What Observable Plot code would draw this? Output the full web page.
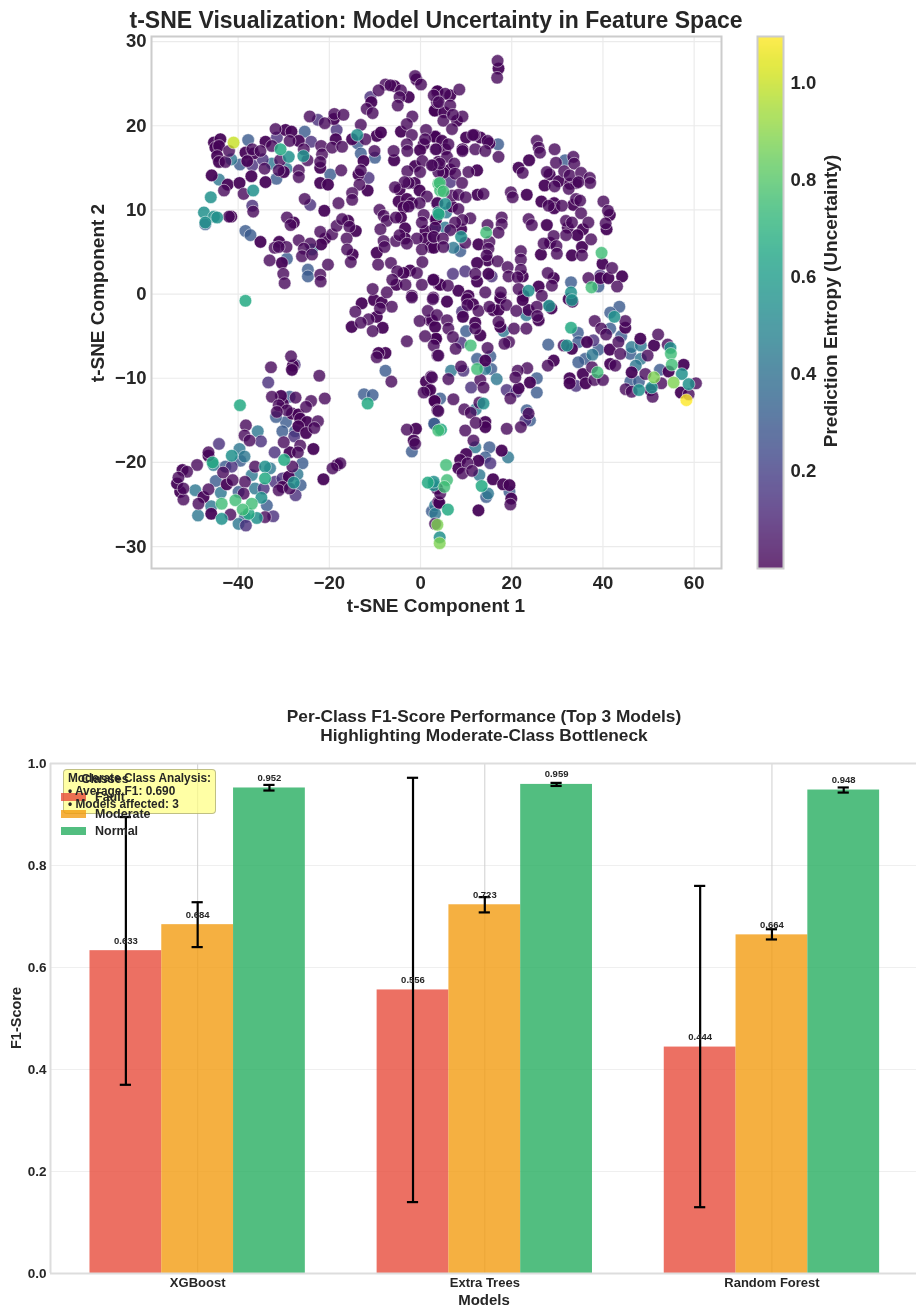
<!DOCTYPE html>
<html><head><meta charset="utf-8">
<script src="https://cdn.jsdelivr.net/npm/d3@7"></script>
<script src="https://cdn.jsdelivr.net/npm/@observablehq/plot@0.6"></script>
<style>
html,body{margin:0;padding:0;background:#fff}
#page{position:relative;width:916px;height:1309px;overflow:hidden;font-family:"Liberation Sans",Arial,sans-serif;color:#262626;filter:blur(0.35px)}
#page svg{position:absolute;background:transparent}
.t{position:absolute;white-space:pre;font-weight:bold;line-height:1;transform:translate(-50%,-50%)}
.l{position:absolute;white-space:pre;font-weight:bold;line-height:1;transform:translateY(-50%)}
.s{position:absolute;width:25px;height:8px}
</style></head><body><div id="page"></div>
<script>
// ---- t-SNE points, grouped by prediction entropy
const dark = [[-45.3,18],[-43.9,18.4],[-45,17.4],[-44.2,17.6],[-44.6,16.4],[-44.2,15.7],[-38.4,16.8],[-36.6,16.7],[-38,15.8],[-34,18.1],[-29.6,19.5],[-28.3,19.3],[-37.1,14],[-34,13.3],[-30,14.5],[-26.7,18.2],[-22,15],[-22,13.2],[-20.3,13],[-19,20.8],[-18.6,18.4],[-15,18.4],[-9.6,18.8],[-8.7,19.2],[-12.5,15.8],[-13.6,14.2],[-11.6,12.3],[-21.1,9.9],[-27.8,8.5],[-45.8,14.1],[-42.3,13],[-39.7,13.2],[-41.5,9.2],[-35.1,6.2],[-31,6.2],[-20.9,6.6],[-21.8,5.9],[-15.9,8.7],[-14.2,7.5],[-14.9,4.7],[-30.4,3.7],[-0.9,25.5],[-5.7,24.7],[-2.6,23.4],[-10.8,22.8],[3.6,24],[3.2,21.8],[-4.3,19.3],[0.7,17.8],[-0.1,17.1],[3.3,18.7],[-5.8,15.9],[-1.2,15.2],[3.9,15.7],[-1.3,13.2],[-4.6,12.4],[-0.2,12.3],[-4.8,11],[-3,11.3],[-1.9,10.8],[-3.7,10.3],[-4.3,9.1],[3.3,8.9],[-3.4,7.8],[1.1,7.5],[1.1,6.6],[-3.4,6.6],[2.3,5.6],[-9.6,4.9],[-2.3,2.8],[-3.7,2.5],[-5.3,1.1],[3.9,1.2],
[17.1,26.8],[3.7,24.1],[6.5,23.6],[3.1,21.8],[5.2,21.6],[8,20.6],[10,18.6],[13.1,18.6],[11.8,18.9],[15.1,17.9],[9.2,17.2],[3.2,18.7],[4.7,18.2],[5.4,17.2],[6.5,14.8],[5,14.4],[12.4,14.7],[12.5,11.8],[6.9,10.4],[3.4,8.9],[8.9,7.7],[2.9,5.5],[12.7,5.9],[14.7,4],[12.4,3.7],[14.9,2.4],[12.4,1.5],[4.3,1.1],[2.9,1.7],[8.3,0.4],[10.5,-0.2],[17.5,-0.4],[22.4,2.1],[29.2,1.9],[25.9,0.9],[22.6,-0.2],[32.5,-0.6],[21.5,15],[23.8,15.9],[28.3,14.2],[27.2,12.9],[30.3,13.4],[32.8,13.1],[34.1,13.2],[23.3,11.8],[26.5,11],[29.3,10.8],[29.3,10.2],[33.5,10.6],[41.5,9.4],[40.8,7.7],[27.7,8.2],[32.3,7.9],[35.6,7.7],[34.4,7],[28.4,6.1],[35.4,5.6],[26.4,4.7],[33.2,4.6],[39.9,3.6],[39.4,1.9],[41.2,1.9],[44.2,2.1],
[-12.9,-1.1],[-10.2,-0.7],[-8.5,-1],[-9.6,-2.7],[-15.1,-3.9],[-8.3,-4],[2.1,-3.1],[3.4,-5.3],[-7.7,-7],[-9.2,-7],[1.5,-11.4],[3.1,-12.7],[1.2,-10.4],[-1,-16],[-1.5,-17.4],[-28,-8.5],[-28.2,-9],[-30.2,-13],[-30.6,-12.1],[-28.2,-14.2],[-26.8,-14.3],[-26.4,-14.8],[-24.9,-15.2],[-26.8,-15.7],[-25.1,-16.5],[-23.5,-18.4],[-28.7,-18.8],[-28.9,-21.7],[-30.3,-22.9],[-18.3,-20.3],[-21.3,-22],[-46.5,-19.2],[-42.5,-22.6],[-47.6,-24.1],[-52.7,-23.5],[-53.4,-22.5],[-52.2,-20.9],[-45.9,-26.1],[3.9,-24.7],
[5.8,-0.9],[10.2,-0.6],[11.5,-1.2],[9.3,-2.7],[12,-3.4],[2.5,-3.1],[3.2,-3.9],[3.4,-5.3],[13.1,-4.9],[15.9,-1.9],[17.1,-1.9],[17.5,-0.5],[17.5,-3.9],[23.7,-1.9],[22.4,-0.7],[28.7,-1.7],[25.9,-3.1],[33.3,-0.9],[29.2,-7.9],[24,-10.5],[21.5,-11.2],[14.2,-7.9],[2.1,-11.4],[3.1,-12.7],[14.2,-15.2],[14.2,-15.8],[10,-19],[17.8,-18.6],[8.7,-19.7],[12.7,-19.8],[8.3,-20.7],[15.9,-22],[18.1,-22.6],[19.5,-22.7],[19.9,-24.3],[12.7,-25.7],[4.1,-24.8],[3.6,-23.1],
[44.9,-4],[33.2,-6.5],[36.5,-5.7],[35.6,-9.5],[32.7,-10],[32.7,-10.6],[36.2,-10.6],[41.5,-6.6],[41.6,-8.3],[48.2,-5.3],[51.2,-6.1],[46.3,-9.3],[57.7,-8.4],[54.4,-9.2],[50.4,-11.4],[57.1,-11.7]];
const purple = [[-42.8,15.7],[-42,17],[-36.9,17.2],[-35.1,17],[-31.8,19.6],[-32.6,17.6],[-30.8,15.9],[-34.2,14.9],[-31.1,14.7],[-26.7,14.7],[-26.7,13.9],[-28.7,18.2],[-24.8,15.9],[-25.6,17.2],[-21.8,17.6],[-21.6,16.6],[-22,15.7],[-24.3,21.1],[-21,20.3],[-18.9,21.4],[-16.9,21.3],[-19.4,17.4],[-17.2,17.5],[-12.1,18.4],[-13.1,20.1],[-17.4,14.7],[-10.1,17],[-13.1,14.7],[-13.4,13],[-15,12],[-15,11.2],[-18,10.8],[-25.4,11.3],[-29.3,9.1],[-28.5,8.2],[-43.1,12.3],[-38.8,11.9],[-42,9.2],[-36.7,9.8],[-32,5.5],[-29.4,5.6],[-31.1,5.6],[-26.7,6.4],[-24.2,6],[-25.6,5.4],[-26,4.5],[-23.8,4.7],[-22,7.4],[-19.4,7.1],[-18.4,8.1],[-17.2,8.9],[-15.6,8],[-16.2,6.6],[-16.1,5.3],[-15.3,3.8],[-20.3,3.5],[-33.1,4],[-30.1,2.4],[-29.8,1.3],[-22,2.3],[-21.9,1.5],
[-1.2,25.9],[0.1,24.9],[-7.7,24.9],[-6.6,24.8],[-9.2,24.2],[-4.3,24.2],[-4.6,23.4],[-11.8,22],[-10.5,21.5],[-5,22.4],[-1.8,21.1],[3.6,22.8],[-3,20.2],[-1.9,18.9],[-3,17.8],[-5.9,17],[-2.9,17],[1.2,19.5],[1,18.4],[3.3,17.2],[0.4,15.8],[-2.9,14.6],[-0.1,14.5],[2.8,15.3],[3.9,14.5],[-2.6,13.2],[-3.5,13.3],[-5.6,12.7],[1.4,11.6],[-0.2,10.8],[3.6,10.8],[-2.6,10.4],[-9,10],[-8.1,9.3],[-7.4,8.7],[-5.4,9.1],[0.7,9.4],[0.3,8.5],[-8.8,7.7],[-0.8,6.6],[2.8,6.8],[-5.4,6.3],[-8.1,6.3],[-4.6,7],[0.3,5.3],[-3,6],[-7.9,5.6],[0.4,3.8],[-9.3,3.5],[-6.5,3.7],[-5.1,2.7],[-0.8,2.5],[-6.2,1.7],[-3.3,1.1],[0.3,1.1],[2.8,1.7],[-10.5,0.6],[-7.4,0.2],[-1.9,-0.2],[2.8,-0.4],
[16.9,27.7],[16.8,25.7],[8.5,24.3],[5.4,23.8],[2.9,23.6],[4,22.8],[6.5,22.4],[9.2,21.1],[5,20.6],[7.1,21.3],[6.9,19.6],[11.5,18.9],[14.7,18.2],[17.1,16.3],[12,17.2],[14.2,17],[9.2,17],[6.1,17.8],[3.4,17.2],[5.8,16.3],[4.2,15.5],[2.5,15.3],[7.4,15.5],[7.6,14.3],[10.5,14.5],[9.1,13.2],[6.9,11.7],[8.3,11.8],[9.9,11.5],[13.8,11.9],[3.7,10.8],[8.3,10.1],[10.9,9],[9.2,8.8],[7.6,8.5],[3.2,7.9],[6.5,7.6],[2.9,6.8],[4.9,6.6],[9.8,6.1],[5,5.6],
[14.7,8.2],[17.8,9.1],[17.8,8.3],[17.1,7.3],[15.1,6.2],[14.9,5.4],[14.5,4.6],[16.9,3.9],[19.1,3.2],[12,2.4],[19.3,2.1],[6,1],[14.2,0.2],[17.6,0.2],[22,5.1],[22,4.1],[22,2.9],[21.3,2],[27.9,2.5],[28.8,1],[21.5,0.6],[26.6,-0.2],[22.4,14.4],[25.5,18.2],[25.9,17.4],[26.2,16.8],[29.4,17.2],[29.7,15.6],[33.5,16.3],[33.7,15.5],[27.7,14.5],[31.5,14.6],[32.7,14.1],[35.2,14.4],[37.1,13.8],[37.2,13.2],[29.4,12.8],[32.5,12.5],[34.6,13.3],[19.8,12.1],[20.2,11.5],[28.1,10.5],[31,10.5],[34.1,11.3],[35,11.1],[40.1,11],[41.1,9.9],[40.6,8.4],[35.2,9.6],[23.7,8.9],[24.4,8.2],[31.9,8.7],[33.2,8.5],[36.8,8.5],[31.9,7],[37.4,6.5],[29.2,6.9],[27,6],[29.8,5.7],[29.9,4.8],[35.4,4.6],[42,3.1],[36.8,1.9],[43.1,0.9],
[-14.3,-2.1],[-6.3,-1.5],[-8.9,-1.7],[-11.4,-3],[-13.1,-3.4],[-10.5,-4.4],[-3,-5.6],[-0.2,-3.2],[1.6,-2],[2.7,-0.6],[3.6,-2.5],[1,-5],[2.9,-6.1],[3.7,-7.3],[-1.9,-0.4],[-9.6,-7.5],[-6.4,-10.4],[2.3,-9.8],[0.7,-11.7],[3.7,-13.8],[-3,-16.1],[-1.2,-17.8],
[-28.4,-7.4],[-32.8,-8.7],[-22.2,-9.7],[-32.6,-12.2],[-27.4,-12.3],[-21,-12.4],[-24,-12.7],[-25.1,-13.4],[-31.1,-13.2],[-29.3,-13.8],[-31.5,-14],[-22.5,-15.1],[-23.3,-15.9],[-38.3,-15.6],[-38.6,-16.8],[-37.5,-17.4],[-30,-17.6],[-26.4,-18],[-26.9,-18.8],[-28.1,-20.5],[-31.1,-23.3],[-28.7,-23.1],[-17.6,-20.1],[-19.3,-20.7],[-46.5,-18.8],[-49,-20.3],[-43.3,-21.2],[-36.3,-20.5],[-38.5,-22.3],[-41.2,-22.1],[-46.5,-23.2],[-48.7,-24.9],[-52,-24.4],[-51.2,-21.1],[-53.1,-21.8],[-52,-23.1],[-41.7,-26.2],[-34.1,-26.5],[-38.8,-23.7],[3.6,-23.1],[3.2,-27.3],
[10.3,-1.3],[12.7,-2],[12,-4.1],[5.8,-3.1],[6.1,-4.1],[7.1,-5.1],[7.7,-6.5],[3.9,-7.3],[14.7,-6.4],[15.1,-1.5],[18.8,-1.3],[17.1,-3.3],[20.5,-4.1],[23.2,-4.1],[21,-2],[25.5,-1.5],[25.6,-2.6],[19.4,-5.7],[18.4,-5.9],[27.9,-8.5],[23.4,-8.8],[21.3,-9.1],[20.8,-9.9],[13.1,-10.2],[13.8,-11.1],[8.9,-8.6],[6.1,-10.1],[2.5,-9.9],[19.7,-12.4],[7.2,-12.5],[3.9,-13.9],[9.6,-13.7],[11,-14.1],[12.9,-12.9],[12.1,-15.3],[9.8,-16.2],[18.9,-16],[22,-15.8],[23.7,-14.2],[11.6,-17.4],[10.3,-20.1],[9.2,-21.3],[11.3,-21],[19.7,-25],[4.3,-23.7],
[38.2,-3.2],[44.9,-3.2],[39.6,-4.1],[40.7,-4.8],[43.4,-5.7],[31.4,-6.1],[37.6,-8.7],[38.1,-10.2],[40,-10.2],[42.7,-8.5],[43.8,-7.1],[52.1,-4.8],[54.2,-6],[49.8,-7.3],[49.3,-9.5],[52.8,-10.6],[60.4,-10.6],[50.9,-12.2],[58.8,-11.9],[45,-11.3],[46.3,-11.6]];
const indigo = [[-18.4,19.5],[-22.5,20.7],[-24,18.1],[-11.4,13.8],[-24.2,10.6],[-36.9,10.5],[-31.5,18.6],[-11,23.4],[-36.9,15.3],[-34.6,16],[6.5,13.3],[-33.4,-10.5],[-35,-17.5],[-27.7,-16.9],[-44.2,-17.8],[-41.4,-20.5],[-32,-18.8],[-34.4,-23.1],[-31.9,-22.3],[-30.3,-21.9],[-38.3,-27.5],[-32.3,-26.4],[-27.4,-23.9],[9.1,-2.1],[8.9,-5.8],[-27.6,-8.4],[11.1,-11.1],[18.9,-11.4],[21,-11.6],[15.3,-20.1],[37.9,-5.5],[34.1,-10.9],[23,-15],[9.4,-9.1],[28.2,-1.4],[39.4,2.2],[15.6,2.1],[9.8,2.7],[7.1,2.4]];
const slate = [[-37.8,18.3],[-39.6,15.4],[-31.6,13.7],[-25.4,19.3],[-13.8,17.9],[-19.8,14.2],[-10,16.2],[-13.1,16.7],[-47.2,8.3],[-38.4,7.5],[-37.3,7],[-29.3,4.2],[-24.7,2.9],[-24.7,2.1],[3.3,7.9],[17,17.8],[31.7,15.9],[8.7,5.1],[-7.7,-9.1],[-12.4,-11.9],[-10.5,-12],[3,-15.4],[-1.9,-18.7],[-29.5,-15.2],[-30.3,-16.3],[-27.5,-16.3],[-31.7,-14.6],[-25.9,-20.1],[-26.3,-22.7],[-42.8,-20.5],[-39.5,-19.8],[-44.9,-22.2],[-39.9,-23.5],[-33.7,-25.1],[-38.5,-26.5],[2.5,-25.8],[10,-4.4],[28,-6],[25.5,-10],[25.5,-11.7],[12.4,-7.7],[15.3,-7.4],[15.5,-8.9],[4.3,-12.4],[24,-15],[23.3,-13.8],[3,-15.4],[15.1,-18.2],[14.2,-19.4],[14.4,-24.1],[19.5,-23.5],[43.6,-1.5],[41.6,-2.2],[41.6,-4.1],[44,-5],[34.5,-4.6],[34.6,-5.7],[39,-6.6],[36.1,-7.7],[34.6,-8.1],[46,-7.1],[46,-10.4],[47.9,-10.4],[33,1.4],[39,0.9],[52.5,-9],[-28.7,-12.2]];
const blue = [[-41.5,16],[-44.2,13.6],[-32.6,15.5],[-29.4,14.9],[-23.8,5.3],[5.6,9.7],[7.2,5.5],[-35.7,-16.3],[-39.7,-18.4],[-38.6,-19.3],[-33,-20.7],[-37,-21.5],[-36.3,-23.1],[-45.4,-20.3],[-43.8,-23.6],[-49.4,-23.3],[-45.9,-25.2],[-48.8,-26.3],[-39.9,-27.3],[-27,-21.4],[3.2,-25.1],[23.2,-2.5],[18.2,-4.4],[16.7,-10.1],[14.2,-8.9],[6.7,-9.1],[12.1,-13.7],[12,-18.2],[19.2,-19.4],[12.9,-21.5],[14.8,-23.7],[3.2,-26.1],[37.7,-7.2],[46.3,-6.3],[48.3,-6.1],[48.3,-7.7],[47.2,-8.5],[5.4,7.9]];
const teal = [[-28.9,16.3],[-25.7,16.4],[-13.9,18.9],[-36.7,12.3],[-46,11.5],[-47.5,9.7],[-45.3,9.2],[-47.2,8.5],[-44.6,9.1],[3.9,9.7],[5.4,10.7],[8.9,6.8],[23.7,0.4],[33,0.2],[-41.4,-19.2],[-34.1,-20.5],[-34.9,-24.2],[-43.6,-26.7],[-35.9,-26.6],[-27.8,-22.4],[4.2,-28.9],[2.9,-22.7],[42.5,-2.7],[13.8,-13],[28.2,-1.4],[32.1,-6.1],[33.2,-0.7],[47.9,-11.4],[54.8,-6.4],[57.3,-9.5],[58.8,-10.7],[50.7,-11.1],[2.9,-22.3]];
const seagreen = [[-30.7,17.2],[-38.4,-0.8],[-39.6,-13.2],[-11.6,-13],[-34.1,-21.9],[-45.6,-20],[-37.7,-26.1],[-29.9,-19.7],[4.5,-16.1],[4,9.5],[33,-4],[6,-25.6],[1.6,-22.4],[13.4,-22.8]];
const green = [[3.9,13.1],[4.3,12.3],[4.2,13.2],[5,12.2],[14.4,7.3],[39.7,4.9],[37.5,0.8],[3.9,-16.2],[-37,-24.9],[-40.6,-24.5],[-43.6,-24.9],[-39,-25.6],[11,-6.1],[12.4,-8.9],[38.8,-9.3],[54.9,-7.1],[55.1,-8.4],[5.6,-20.3],[5.8,-22.1],[5.2,-22.9]];
const lime = [[3.7,-27.4],[4.2,-29.6],[51.2,-9.9],[55.5,-10.5]];
const chartreuse = [[-41,18]];
const yellow = [[58.3,-12.6]];
const entropyGroups = [
  {pts: slate, e: 0.3, a: 0.8},
  {pts: blue, e: 0.43, a: 0.8},
  {pts: indigo, e: 0.14, a: 0.8},
  {pts: dark, e: 0.01, a: 0.94},
  {pts: purple, e: 0.02, a: 0.8},
  {pts: teal, e: 0.55, a: 0.85},
  {pts: seagreen, e: 0.66, a: 0.85},
  {pts: green, e: 0.75, a: 0.8},
  {pts: lime, e: 0.88, a: 0.8},
  {pts: chartreuse, e: 1.0, a: 0.8},
  {pts: yellow, e: 1.097, a: 0.8}
];
const xTicksTop = [-40,-20,0,20,40,60];
const yTicksTop = [-30,-20,-10,0,10,20,30];
const cbTicks = [0.2,0.4,0.6,0.8,1.0];

// ---- per-class F1
const models = ["XGBoost","Extra Trees","Random Forest"];
const classes = ["Fault","Moderate","Normal"];
const classColors = ["#e74c3c","#f39c12","#27ae60"];
const faultF1 = [0.633,0.556,0.444];
const moderateF1 = [0.684,0.723,0.664];
const normalF1 = [0.952,0.959,0.948];
const faultErr = [[0.37,0.895],[0.14,0.972],[0.13,0.76]];
const moderateErr = [[0.64,0.728],[0.708,0.738],[0.655,0.675]];
const normalErr = [[0.947,0.958],[0.956,0.962],[0.943,0.953]];
const yTicksBottom = [0,0.2,0.4,0.6,0.8,1.0];

const page = document.getElementById("page");
const font = '"Liberation Sans",Arial,sans-serif';
const ink = "#262626";
function put(el,left,top){el.style.left=left+"px";el.style.top=top+"px";page.appendChild(el);}
function text(s,x,y,size,rot,cls="t"){
  const d=document.createElement("div");d.className=cls;d.textContent=s;d.style.fontSize=size+"px";
  if(rot)d.style.transform=`translate(-50%,-50%) rotate(${rot}deg)`;
  put(d,x,y);return d;
}

// ---- scatter
const colorScale = {type:"linear",scheme:"viridis",domain:[0,1.097]};
const scatter = Plot.plot({
  width:916,height:640,marginLeft:151,marginRight:195,marginTop:36,marginBottom:72,
  style:{fontFamily:font,background:"transparent"},
  x:{domain:[-59,66],label:null},
  y:{domain:[-32.6,30.6],label:null},
  color:colorScale,
  marks:[
    Plot.gridX(xTicksTop,{stroke:"#ebebeb",strokeOpacity:1,strokeWidth:1.2}),
    Plot.gridY(yTicksTop,{stroke:"#ebebeb",strokeOpacity:1,strokeWidth:1.2}),
    ...entropyGroups.map(g=>Plot.dot(g.pts,{x:d=>d[0],y:d=>d[1],r:6.3,fill:()=>g.e,fillOpacity:g.a,stroke:"#fff",strokeWidth:0.7,strokeOpacity:0.7})),
    Plot.frame({stroke:"#cccccc",strokeWidth:2}),
    Plot.axisX({ticks:xTicksTop,tickSize:0,tickPadding:7,label:null,fontSize:18.5,fontWeight:"bold",fill:ink}),
    Plot.axisY({ticks:yTicksTop,tickSize:0,tickPadding:5,label:null,fontSize:18.5,fontWeight:"bold",fill:ink})
  ]
});
put(scatter,0,0);

// ---- colorbar
const bar = Plot.plot({
  width:176,height:640,marginLeft:17,marginRight:133,marginTop:36,marginBottom:72,
  style:{fontFamily:font,background:"transparent"},
  x:{domain:[0,1],axis:null},
  y:{domain:[0,1.097],label:null},
  color:colorScale,
  marks:[
    Plot.raster({x1:0,x2:1,y1:0,y2:1.097,width:1,height:266,fill:(x,y)=>y,fillOpacity:0.8,imageRendering:"auto"}),
    Plot.frame({stroke:"#cccccc",strokeWidth:2}),
    Plot.axisY({anchor:"right",ticks:cbTicks,tickFormat:".1f",tickSize:0,tickPadding:7,label:null,fontSize:18.5,fontWeight:"bold",fill:ink})
  ]
});
put(bar,740,0);

text("t-SNE Visualization: Model Uncertainty in Feature Space",436,20,23);
text("t-SNE Component 1",436,605,19);
text("t-SNE Component 2",97,293,19,-90);
text("Prediction Entropy (Uncertainty)",830,301,19,-90);

// ---- bars
const f1Rows = [];
[faultF1,moderateF1,normalF1].forEach((vals,c)=>{
  const errs=[faultErr,moderateErr,normalErr][c];
  vals.forEach((v,m)=>f1Rows.push({model:m,cls:classes[c],center:m+(c-1)*0.25,f1:v,lo:errs[m][0],hi:errs[m][1]}));
});
const capHalf = 0.0195, halfBar = 0.125;
const bars = Plot.plot({
  width:916,height:609,marginLeft:50,marginRight:0,marginTop:63,marginBottom:36,
  style:{fontFamily:font,background:"transparent"},
  x:{type:"linear",domain:[-0.5125,2.5125],range:[50,918.6],label:null},
  y:{domain:[0,1],label:null},
  color:{domain:classes,range:classColors},
  marks:[
    Plot.ruleY([0.2,0.4,0.6,0.8],{stroke:"#efefef",strokeWidth:1}),
    Plot.ruleX([0,1,2],{stroke:"#cfcfcf",strokeWidth:1}),
    Plot.rect(f1Rows,{x1:d=>d.center-halfBar,x2:d=>d.center+halfBar,y1:0,y2:"f1",fill:"cls",fillOpacity:0.8}),
    Plot.ruleX([-0.5125],{stroke:"#dddddd",strokeWidth:2}),
    Plot.ruleY([0,1],{stroke:"#dddddd",strokeWidth:2}),
    Plot.ruleX(f1Rows,{x:"center",y1:"lo",y2:"hi",stroke:"#000",strokeWidth:2.2}),
    Plot.ruleY(f1Rows,{y:"lo",x1:d=>d.center-capHalf,x2:d=>d.center+capHalf,stroke:"#000",strokeWidth:2.2}),
    Plot.ruleY(f1Rows,{y:"hi",x1:d=>d.center-capHalf,x2:d=>d.center+capHalf,stroke:"#000",strokeWidth:2.2}),
    Plot.text(f1Rows,{x:"center",y:"f1",text:d=>d.f1.toFixed(3),dy:-10,fontSize:9.5,fontWeight:"bold",fill:ink}),
    Plot.axisX({ticks:[0,1,2],tickFormat:i=>models[i],tickSize:0,tickPadding:4,label:null,fontSize:13,fontWeight:"bold",fill:ink}),
    Plot.axisY({ticks:yTicksBottom,tickFormat:".1f",tickSize:0,tickPadding:4,label:null,fontSize:13.5,fontWeight:"bold",fill:ink})
  ]
});
put(bars,0,700);

text("Per-Class F1-Score Performance (Top 3 Models)",484,717,17.3);
text("Highlighting Moderate-Class Bottleneck",484,736,17.3);
text("Models",484,1299,15);
text("F1-Score",16,1018,14.5,-90);

// ---- note box, with the legend and the note text both showing over it
const box=document.createElement("div");
box.style.cssText="position:absolute;width:153px;height:45px;box-sizing:border-box;background:rgba(255,255,130,0.72);border:1px solid rgba(150,150,110,0.6);border-radius:4px";
put(box,63.3,769.3);
text("Classes",105,779,12.5);
classes.forEach((c,i)=>{
  const y=[797,814,831][i];
  const s=document.createElement("div");s.className="s";s.style.background=classColors[i];s.style.opacity=0.8;
  put(s,60.5,y-4);
  text(c,95,y,12.5,0,"l");
});
["Moderate Class Analysis:","• Average F1: 0.690","• Models affected: 3"].forEach((s,i)=>{
  text(s,68,779+i*13,11.85,0,"l");
});
</script></body></html>
